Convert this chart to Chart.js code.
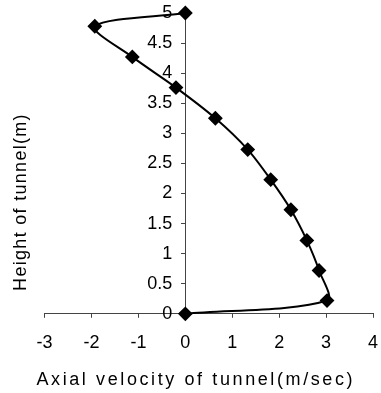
<!DOCTYPE html>
<html>
<head>
<meta charset="utf-8">
<script src="https://cdn.jsdelivr.net/npm/chart.js@4/dist/chart.umd.min.js"></script>
<style>
  html, body { margin: 0; padding: 0; background: #fff; }
  #wrap { width: 381px; height: 393px; }
</style>
</head>
<body>
<div id="wrap"><canvas id="velocityChart" width="381" height="393"></canvas></div>
<script>
  // measured profile, bottom of tunnel to top
  const heights = [0, 0.22, 0.72, 1.22, 1.73, 2.23, 2.73, 3.25, 3.76, 4.27, 4.78, 5];
  const velocities = [0, 3.02, 2.85, 2.59, 2.25, 1.82, 1.33, 0.64, -0.2, -1.13, -1.93, 0];

  const xTicks = [-3, -2, -1, 0, 1, 2, 3, 4];
  const yTicks = [0, 0.5, 1, 1.5, 2, 2.5, 3, 3.5, 4, 4.5, 5];

  const xTitle = 'Axial velocity of tunnel(m/sec)';
  const yTitle = 'Height of tunnel(m)';

  const points = heights.map((h, i) => ({ x: velocities[i], y: h }));
  const font = { family: 'Liberation Sans, Arial, sans-serif', size: 18, weight: 'normal' };

  // scanned figure: wide letter spacing in titles, y labels set off from the centre axis
  const scanTweaks = {
    id: 'scanTweaks',
    beforeDraw(chart) {
      const wrap = (obj, name, spacing, shiftX) => {
        if (!obj || obj['_sp_' + name]) return;
        const orig = obj[name].bind(obj);
        obj[name] = function (...args) {
          const c = chart.ctx;
          c.save();
          c.letterSpacing = spacing;
          c.translate(shiftX, 0);
          orig(...args);
          c.restore();
        };
        obj['_sp_' + name] = true;
      };
      wrap(chart.scales.x, 'drawTitle', '2.6px', -13);
      wrap(chart.scales.y, 'drawLabels', '0px', -13);
      wrap(chart.titleBlock, 'draw', '1.3px', 0);
    }
  };

  new Chart(document.getElementById('velocityChart').getContext('2d'), {
    type: 'scatter',
    data: {
      datasets: [{
        data: points,
        showLine: true,
        tension: 0.3,
        borderColor: '#000',
        borderWidth: 2,
        pointStyle: 'rectRot',
        pointRadius: 6,
        pointBackgroundColor: '#000',
        pointBorderColor: '#000',
        clip: false
      }]
    },
    plugins: [scanTweaks],
    options: {
      responsive: false,
      animation: false,
      layout: { padding: { left: 0, right: -6, top: 13, bottom: 2 } },
      plugins: {
        legend: { display: false },
        tooltip: { enabled: false },
        title: {
          display: true,
          position: 'left',
          text: yTitle,
          color: '#000',
          font: font,
          padding: { top: 10, bottom: 13 }
        }
      },
      scales: {
        x: {
          type: 'linear',
          position: 'bottom',
          min: -3,
          max: 4,
          afterBuildTicks: (axis) => { axis.ticks = xTicks.map(v => ({ value: v })); },
          afterFit: (axis) => { axis.paddingRight = 0; axis.paddingLeft = 0; },
          grid: { drawOnChartArea: false, tickLength: 4, color: '#444' },
          border: { color: '#444', width: 1 },
          ticks: { font: font, padding: 14, color: '#000', callback: v => String(v) },
          title: { display: true, text: xTitle, font: font, padding: { top: 2, bottom: 0 }, color: '#000' }
        },
        y: {
          type: 'linear',
          position: { x: 0 },
          min: 0,
          max: 5,
          afterBuildTicks: (axis) => { axis.ticks = yTicks.map(v => ({ value: v })); },
          afterFit: (axis) => { axis.paddingTop = 0; axis.paddingBottom = 0; },
          grid: { drawOnChartArea: false, tickLength: 4, color: '#444' },
          border: { color: '#444', width: 1 },
          ticks: { font: font, color: '#000', callback: v => String(v) }
        }
      }
    }
  });
</script>
</body>
</html>
